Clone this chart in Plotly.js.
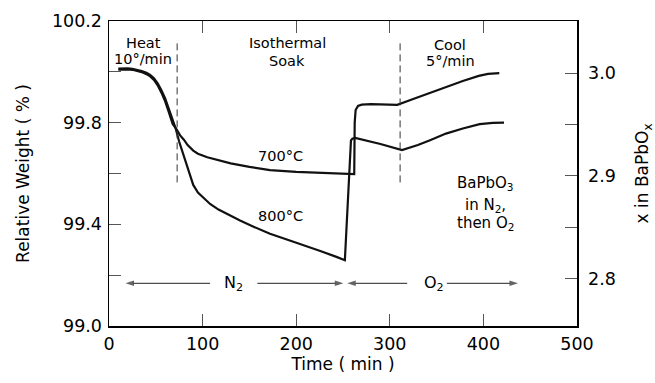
<!DOCTYPE html>
<html>
<head>
<meta charset="utf-8">
<script src="https://cdn.plot.ly/plotly-3.0.1.min.js"></script>
<style>html,body{margin:0;padding:0;background:#fff;}#chart{width:655px;height:383px;}</style>
</head>
<body>
<div id="chart"></div>
<script>
// ---- Data ----
const time700 = [10,15,20,25,30,35,40,44,48,52,56,60,64,68,72,76,80,84,90,95,105,114,130,150,172,200,226,245,257,262,262.5,263.5,266,270,280,295,308,325,343,360,378,395,405,417];
const weight700 = [100.009,100.010,100.010,100.008,100.004,99.999,99.991,99.982,99.968,99.947,99.918,99.884,99.84,99.795,99.775,99.75,99.733,99.712,99.69,99.678,99.664,99.655,99.64,99.626,99.613,99.606,99.603,99.600,99.598,99.598,99.80,99.85,99.866,99.871,99.873,99.872,99.870,99.893,99.918,99.942,99.964,99.984,99.992,99.995];

const time800 = [10,15,20,25,30,35,40,44,48,52,56,60,64,68,71,75,80,85,90,95,101,108,117,126,140,155,172,190,208,225,243,252,258.5,260,263,290,313,330,343,360,378,396,410,422];
const weight800 = [100.013,100.014,100.014,100.012,100.008,100.003,99.996,99.988,99.975,99.955,99.928,99.895,99.853,99.808,99.78,99.725,99.67,99.61,99.555,99.525,99.505,99.48,99.458,99.44,99.415,99.39,99.363,99.34,99.318,99.296,99.272,99.259,99.73,99.737,99.74,99.716,99.692,99.712,99.731,99.757,99.777,99.794,99.799,99.80];

const curveLabels = ['700°C', '800°C'];
const curveLabelTimes = [183, 183];
const curveLabelWeights = [99.668, 99.432];

const stageLabels = ['Heat', '10°/min', 'Isothermal', 'Soak', 'Cool', '5°/min'];
const stageLabelTimes = [37, 36.5, 191, 190.5, 364.5, 364.5];
const stageLabelWeights = [100.113, 100.049, 100.114, 100.041, 100.104, 100.041];

const phaseBoundaryTimes = [72.8, 311];
const phaseBoundaryTop = 100.124;
const phaseBoundaryBottom = 99.565;

const noteLines = ['BaPbO<sub>3</sub>', 'in N<sub>2</sub>,', 'then O<sub>2</sub>'];
const noteTime = 402;
const noteWeights = [99.561, 99.475, 99.404];

const gasLabels = ['N<sub>2</sub>', 'O<sub>2</sub>'];
const gasLabelTimes = [133, 347.5];
const gasArrowWeight = 99.168;
const gasArrowTails = [108, 158.5, 318.6, 361];
const gasArrowHeads = [17.6, 250.4, 254.5, 437];

const xTickVals = [0, 100, 200, 300, 400, 500];
const yTickVals = [99.0, 99.4, 99.8, 100.2];
const yMinorTickVals = [99.2, 99.6, 100.0];
const y2TickVals = [2.8, 2.9, 3.0];
const y2TickText = ['2.8', '2.9', '3.0'];
const y2MinorTickVals = [2.85, 2.95];
const y2Range = [2.7538, 3.051];

// ---- Traces ----
const lineStyle = {color: '#111', width: 2.2};
const traces = [
  {x: time700, y: weight700, mode: 'lines', line: lineStyle, hoverinfo: 'skip'},
  {x: time800, y: weight800, mode: 'lines', line: lineStyle, hoverinfo: 'skip'},
  {x: [0], y: [2.9], yaxis: 'y2', mode: 'markers', marker: {opacity: 0}, hoverinfo: 'skip'}
];
gasArrowTails.forEach((tail, i) => traces.push({
  x: [tail, gasArrowHeads[i]], y: [gasArrowWeight, gasArrowWeight],
  mode: 'lines+markers', line: {color: '#222', width: 1},
  marker: {symbol: 'arrow', angleref: 'previous', size: [0, 9], color: '#222', line: {width: 0}},
  hoverinfo: 'skip'
}));

// ---- Annotations ----
const annotations = [];
stageLabels.forEach((t, i) => annotations.push({x: stageLabelTimes[i], y: stageLabelWeights[i], xref: 'x', yref: 'y', text: t, showarrow: false, font: {size: 14.5, color: '#000'}}));
curveLabels.forEach((t, i) => annotations.push({x: curveLabelTimes[i], y: curveLabelWeights[i], xref: 'x', yref: 'y', text: t, showarrow: false, font: {size: 14.5, color: '#000'}}));
noteLines.forEach((t, i) => annotations.push({x: noteTime, y: noteWeights[i], xref: 'x', yref: 'y', text: t, showarrow: false, font: {size: 15, color: '#000'}}));
gasLabels.forEach((t, i) => annotations.push({x: gasLabelTimes[i], y: gasArrowWeight, xref: 'x', yref: 'y', text: t, showarrow: false, font: {size: 16, color: '#000'}}));

const shapes = phaseBoundaryTimes.map(t => ({
  type: 'line', xref: 'x', yref: 'y', x0: t, x1: t, y0: phaseBoundaryBottom, y1: phaseBoundaryTop,
  line: {color: '#333', width: 1, dash: '7px,4px'}
}));

const axisCommon = {
  ticks: 'inside', ticklen: 12, tickcolor: '#555', tickwidth: 1,
  showline: true, linecolor: '#000', linewidth: 1.5,
  showgrid: false, zeroline: false, automargin: false,
  tickfont: {size: 17.5, color: '#000', family: 'DejaVu Sans'}
};

const layout = {
  width: 655, height: 383,
  margin: {l: 109, r: 78, t: 21, b: 57, pad: 0},
  paper_bgcolor: '#fff', plot_bgcolor: '#fff',
  showlegend: false,
  font: {family: 'DejaVu Sans', color: '#000'},
  xaxis: Object.assign({}, axisCommon, {
    range: [0, 500], tickvals: xTickVals, mirror: 'ticks', ticklabelstandoff: 1,
    title: {text: 'Time ( min )', font: {size: 17, color: '#000'}, standoff: 5}
  }),
  yaxis: Object.assign({}, axisCommon, {
    range: [99.0, 100.2], tickvals: yTickVals, ticktext: yTickVals.map(v => v.toFixed(1)), mirror: true, ticklabelstandoff: 2,
    minor: {tickvals: yMinorTickVals, ticks: 'inside', ticklen: 12, tickcolor: '#555', tickwidth: 1, showgrid: false},
    title: {text: 'Relative Weight ( % )', font: {size: 17, color: '#000'}, standoff: 18}
  }),
  yaxis2: Object.assign({}, axisCommon, {
    overlaying: 'y', side: 'right', range: y2Range, tickvals: y2TickVals, ticktext: y2TickText, ticklabelstandoff: 6,
    minor: {tickvals: y2MinorTickVals, ticks: 'inside', ticklen: 12, tickcolor: '#555', tickwidth: 1, showgrid: false},
    title: {text: 'x in BaPbO<sub>x</sub>', font: {size: 17, color: '#000'}, standoff: 21}
  }),
  annotations: annotations,
  shapes: shapes
};

Plotly.newPlot('chart', traces, layout, {staticPlot: true, displayModeBar: false});
</script>
</body>
</html>
